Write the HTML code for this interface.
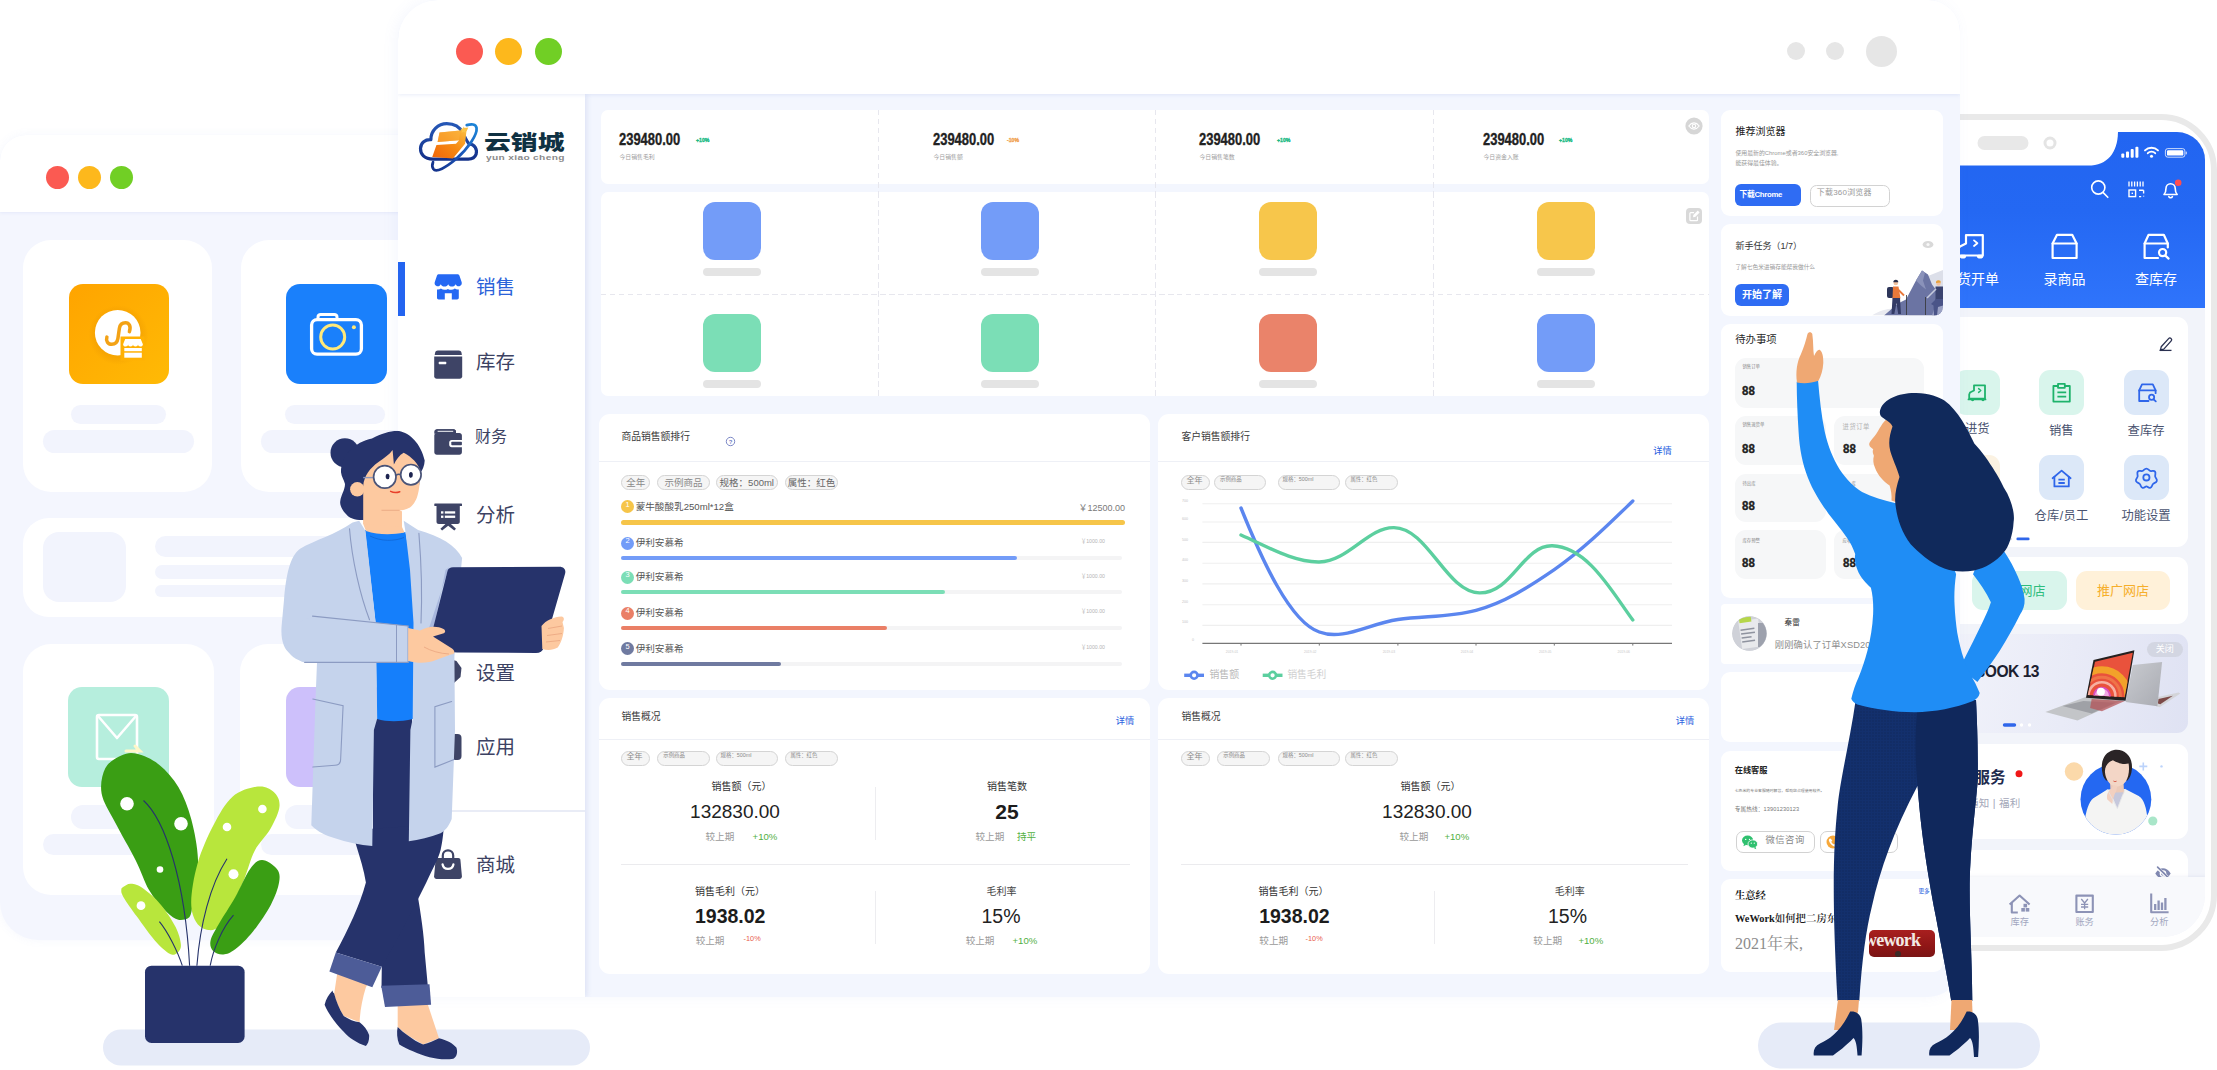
<!DOCTYPE html>
<html lang="zh-CN">
<head>
<meta charset="utf-8">
<title>云销城</title>
<style>
html,body{margin:0;padding:0;background:#fff;}
body{width:2217px;height:1070px;overflow:hidden;position:relative;font-family:"Liberation Sans","Noto Sans CJK SC",sans-serif;color:#333;}
#stage{position:absolute;left:0;top:0;width:2217px;height:1070px;overflow:hidden;background:#fff;}
.abs{position:absolute;}
.t{position:absolute;white-space:nowrap;line-height:1;}
/* left back window */
#lw{position:absolute;left:0;top:135px;width:500px;height:805px;background:#f4f6fe;border-radius:26px 0 0 38px;overflow:hidden;box-shadow:0 0 10px rgba(120,140,220,.07);}
#lw .hd{position:absolute;left:0;top:0;width:100%;height:77px;background:#fff;box-shadow:0 1px 3px rgba(120,140,220,.12);}
.dot{position:absolute;border-radius:50%;}
.wc{position:absolute;background:#fff;border-radius:28px;}
.ph{position:absolute;background:#f2f4fd;border-radius:20px;}
/* main window */
#mw{position:absolute;left:398px;top:0;width:1562px;height:997px;background:#f3f6fe;border-radius:40px 32px 32px 0;overflow:hidden;box-shadow:-3px 0 14px rgba(120,140,220,.07);}
#mw .hd{position:absolute;left:0;top:0;width:100%;height:94px;background:#fff;box-shadow:0 1px 3px rgba(120,140,220,.14);z-index:3;}
#side{position:absolute;left:0;top:94px;width:187px;height:903px;background:#fff;box-shadow:3px 0 6px rgba(150,165,220,.18);z-index:2;}
.card{position:absolute;background:#fff;border-radius:9px;}
.mi{position:absolute;left:78px;font-size:19.5px;color:#3c4263;white-space:nowrap;line-height:1;}
.chip{position:absolute;height:13.600px;border:1.600px solid #d4d4d4;background:#f5f5f5;border-radius:9px;box-sizing:content-box;color:#8a8a8a;font-size:9.5px;line-height:14px;white-space:nowrap;overflow:hidden;}
.num{font-weight:bold;transform-origin:0 50%;display:inline-block;transform:scaleX(.835);letter-spacing:0;-webkit-text-stroke:.35px currentColor;}
.vd{position:absolute;width:1.400px;background:repeating-linear-gradient(180deg,#e7e7ee 0,#e7e7ee 5.500px,transparent 5.500px,transparent 9px);}
.hdv{position:absolute;height:1.400px;background:repeating-linear-gradient(90deg,#e7e7ee 0,#e7e7ee 5.500px,transparent 5.500px,transparent 9px);}
.sq{position:absolute;width:58px;height:58px;border-radius:12px;}
.pl{position:absolute;width:58px;height:7.5px;border-radius:4px;background:#e4e4e4;}
</style>
</head>
<body>
<div id="stage">
<!-- ============ LEFT BACK WINDOW ============ -->
<div id="lw">
  <div class="hd"></div>
  <div class="dot" style="left:46px;top:31px;width:23px;height:23px;background:#fb5a52;"></div>
  <div class="dot" style="left:78px;top:31px;width:23px;height:23px;background:#fdb81c;"></div>
  <div class="dot" style="left:110px;top:31px;width:23px;height:23px;background:#71cf25;"></div>
  <!-- row 1 cards -->
  <div class="wc" style="left:23px;top:105px;width:189px;height:252px;"></div>
  <div class="wc" style="left:241px;top:105px;width:189px;height:252px;"></div>
  <div class="abs" style="left:69px;top:148.700px;width:100px;height:100px;border-radius:14px;background:linear-gradient(135deg,#ffa400,#ffba05);">
    <svg width="100" height="100" viewBox="0 0 100 100" style="position:absolute;left:0;top:0">
      <defs><radialGradient id="osh" cx=".5" cy=".5" r=".5"><stop offset=".75" stop-color="#e08a00" stop-opacity=".28"/><stop offset="1" stop-color="#e08a00" stop-opacity="0"/></radialGradient></defs>
      <circle cx="49.500" cy="51" r="30" fill="url(#osh)"/>
      <circle cx="48.700" cy="48.700" r="22.800" fill="#fff"/>
      <path d="M60.400 47.600C62.300 42.200 60 38.700 56.500 38.700C53 38.700 50.900 40.700 50.400 44.200L48.900 54.600C48.400 58.100 46 60.300 42.700 60.300C39 60.300 36.600 57 37.900 53.100" fill="none" stroke="#f3a215" stroke-width="3.500" stroke-linecap="round"/>
      <rect x="51.500" y="52.500" width="24" height="24" fill="#ffb104"/>
      <path d="M56.500 55h15.500l2.200 5.200c0 1.500-1.200 2.300-2.500 2.300s-2.400-.8-2.400-2c0 1.200-1.100 2-2.500 2s-2.500-.8-2.500-2c0 1.200-1.100 2-2.500 2s-2.400-.8-2.400-2c0 1.200-1.100 2-2.500 2s-2.500-.8-2.500-2.300z" fill="#fff" transform="translate(-.3,0)"/>
      <rect x="55.300" y="64" width="17.500" height="3.200" fill="#fff"/><rect x="55.300" y="68.700" width="17.500" height="5" fill="#fff"/>
    </svg>
  </div>
  <div class="abs" style="left:286px;top:148.700px;width:100.500px;height:100px;border-radius:14px;background:#1a80fb;">
    <svg width="101" height="100" viewBox="0 0 101 100" style="position:absolute;left:0;top:0">
      <path d="M32 35.200v-2.200a2.600 2.600 0 0 1 2.600-2.600h13.800a2.600 2.600 0 0 1 2.600 2.600v2.200" fill="none" stroke="#fff" stroke-width="3"/>
      <rect x="25.600" y="35.600" width="49.800" height="34.600" rx="5.500" fill="none" stroke="#fff" stroke-width="3.300"/>
      <circle cx="46.700" cy="53" r="12" fill="none" stroke="#ffe97a" stroke-width="3"/>
      <circle cx="67.900" cy="43.300" r="2" fill="#ffe97a"/>
    </svg>
  </div>
  <div class="ph" style="left:71px;top:270px;width:95px;height:19px;"></div>
  <div class="ph" style="left:43px;top:295px;width:151px;height:23px;"></div>
  <div class="ph" style="left:285px;top:270px;width:100px;height:19px;"></div>
  <div class="ph" style="left:261px;top:295px;width:151px;height:23px;"></div>
  <!-- row 2 wide card -->
  <div class="wc" style="left:23px;top:383px;width:440px;height:99px;border-radius:26px;"></div>
  <div class="ph" style="left:43px;top:397px;width:83px;height:70px;border-radius:16px;"></div>
  <div class="ph" style="left:155px;top:401px;width:260px;height:21px;"></div>
  <div class="ph" style="left:155px;top:430px;width:260px;height:14px;"></div>
  <div class="ph" style="left:155px;top:450px;width:260px;height:12px;"></div>
  <!-- row 3 cards -->
  <div class="wc" style="left:23px;top:509px;width:191px;height:251px;"></div>
  <div class="wc" style="left:240px;top:509px;width:191px;height:251px;"></div>
  <div class="abs" style="left:68px;top:552px;width:101px;height:100px;border-radius:14px;background:#b6eedd;">
    <svg width="101" height="100" viewBox="0 0 101 100" style="position:absolute;left:0;top:0">
      <path d="M31 28h36a2 2 0 0 1 2 2v40a2 2 0 0 1-2 2H31a2 2 0 0 1-2-2V30a2 2 0 0 1 2-2z" fill="none" stroke="#fff" stroke-width="2.6"/>
      <path d="M30 29l19 22 19-22" fill="none" stroke="#fff" stroke-width="2.6" stroke-linejoin="round"/>
      <path d="M58 64h14l-5-5" fill="none" stroke="#fff7c8" stroke-width="3" stroke-linecap="round"/>
    </svg>
  </div>
  <div class="abs" style="left:286px;top:552px;width:101px;height:100px;border-radius:14px;background:#cdc0fb;"></div>
  <div class="ph" style="left:71px;top:670px;width:95px;height:24px;"></div>
  <div class="ph" style="left:43px;top:699px;width:151px;height:21px;"></div>
  <div class="ph" style="left:285px;top:670px;width:100px;height:24px;"></div>
  <div class="ph" style="left:261px;top:699px;width:151px;height:21px;"></div>
</div>
<!-- ============ PHONE ============ -->
<div id="phone" class="abs" style="left:1880px;top:114px;width:336.500px;height:837px;box-sizing:border-box;border:6.5px solid #e9e9e9;border-radius:56px;background:#fff;"></div>
<div id="scr" class="abs" style="left:1900px;top:132px;width:305px;height:804.500px;border-radius:28px 28px 42px 28px;overflow:hidden;background:#f2f4fa;">
 <div class="abs" style="left:-1900px;top:-132px;width:2217px;height:1070px;font-family:'Liberation Sans','Noto Sans CJK SC',sans-serif;">
  <div class="abs" style="left:1900px;top:132px;width:306px;height:175.5px;background:linear-gradient(180deg,#2265f1 0%,#2468f3 45%,#2f74fb 100%);"></div>
  <svg class="abs" style="left:0;top:0" width="2217" height="1070" viewBox="0 0 2217 1070">
    <!-- notch -->
    <path d="M1900 131H2118C2118 152 2108 165.6 2088 165.6H1900Z" fill="#fff"/>
    <rect x="1977.5" y="136" width="51" height="14" rx="7" fill="#e8e8e8"/>
    <circle cx="2050" cy="143" r="5" fill="#fff" stroke="#e4e4e4" stroke-width="3"/>
    <!-- status -->
    <g fill="#fff">
      <rect x="2121.3" y="153.6" width="3" height="4.2" rx="1"/><rect x="2126" y="151.4" width="3" height="6.4" rx="1"/><rect x="2130.7" y="149" width="3" height="8.8" rx="1"/><rect x="2135.4" y="146.8" width="3" height="11" rx="1"/>
      <circle cx="2151.5" cy="156.3" r="1.5"/>
    </g>
    <path d="M2147.8 153.2a5.2 5.2 0 0 1 7.4 0M2145 150.4a9.2 9.2 0 0 1 13 0" fill="none" stroke="#fff" stroke-width="1.9" stroke-linecap="round"/>
    <rect x="2165.4" y="148.6" width="19.5" height="8.6" rx="2.4" fill="none" stroke="#fff" stroke-width="1" opacity=".75"/>
    <rect x="2167" y="150.2" width="16.3" height="5.4" rx="1.2" fill="#fff"/>
    <rect x="2185.7" y="151.4" width="1.2" height="3" rx=".6" fill="#fff" opacity=".7"/>
    <!-- header icons -->
    <g fill="none" stroke="#fff" stroke-width="1.6" stroke-linecap="round">
      <circle cx="2098.3" cy="187.5" r="6.6"/><path d="M2103.2 192.6L2107.8 197.3"/>
      <path d="M2129 181.5v5M2131.8 181.5v5M2134.6 181.5v5M2137.4 181.5v5M2140.2 181.5v5M2143 181.5v5" stroke-width="1.3" stroke-linecap="butt"/>
      <rect x="2129" y="190" width="6.6" height="6.6" stroke-width="1.4"/><rect x="2131.6" y="192.6" width="1.4" height="1.4" fill="#fff" stroke="none"/>
      <path d="M2139 190.2h4.6M2143.6 190.2v3.2M2139 196.6h2.2M2143.6 196.6v-0.8" stroke-width="1.4" stroke-linecap="butt"/>
      <path d="M2164 194.5h13.2c-1.6-1.6-2-3-2-6.2a4.6 4.6 0 0 0-9.2 0c0 3.2-.4 4.6-2 6.200z" stroke-linejoin="round"/><path d="M2168.8 196.6a2 2 0 0 0 3.600 0" />
    </g>
    <circle cx="2178.2" cy="182.8" r="3.3" fill="#ff4d4f"/>
    <!-- quick actions -->
    <g fill="none" stroke="#fff" stroke-width="2.2" stroke-linejoin="round" stroke-linecap="round">
      <path d="M1960 246.5l6-3v-8.300h16.800v20.300h-24.500v-6.500z"/><path d="M1974 240.400l3.400 2.800-3.400 2.800" stroke-width="1.800"/>
      <rect x="1959.700" y="254.800" width="6.400" height="3.600" rx="1.800" fill="#fff" stroke="none"/><rect x="1976.900" y="254.800" width="6.400" height="3.600" rx="1.800" fill="#fff" stroke="none"/>
      <path d="M2052.600 243.500L2057 234.800h15.200l4.400 8.700v14.500h-24z"/><path d="M2052.600 243.500h24"/>
      <path d="M2158 258h-13.400v-14.500l4-8.700h15.200l4 8.700v4"/><path d="M2144.600 243.500h23.200"/>
      <circle cx="2162.600" cy="252.600" r="3.600"/><path d="M2165.400 255.600l3.200 3"/>
    </g>
  </svg>
  <div class="t" style="left:1943px;top:271.500px;font-size:14px;color:#fff;">进货开单</div>
  <div class="t" style="left:2043.400px;top:271.500px;font-size:14px;color:#fff;">录商品</div>
  <div class="t" style="left:2135px;top:271.500px;font-size:14px;color:#fff;">查库存</div>

  <!-- card 1 : grid -->
  <div class="abs" style="left:1920px;top:317.300px;width:268.300px;height:230px;border-radius:11px;background:#fff;"></div>
  <svg class="abs" style="left:2158px;top:336px" width="18" height="16" viewBox="0 0 18 16"><path d="M3.200 10.800L10.600 2.600a1.700 1.700 0 0 1 2.600 2.300L5.800 13.100l-3.300.9z" fill="none" stroke="#2a3050" stroke-width="1.300" stroke-linejoin="round"/><path d="M1.500 14.400h12" stroke="#2a3050" stroke-width="1.300"/></svg>
  <div class="abs" style="left:1955px;top:369.700px;width:45.200px;height:45px;border-radius:11px;background:#d9f5ec;"></div>
  <div class="abs" style="left:2039px;top:369.700px;width:45.200px;height:45px;border-radius:11px;background:#d9f5ec;"></div>
  <div class="abs" style="left:2123.700px;top:369.700px;width:45.500px;height:45px;border-radius:11px;background:#dce8f8;"></div>
  <div class="abs" style="left:1955px;top:455px;width:45.200px;height:45px;border-radius:11px;background:#fbf2e2;"></div>
  <div class="abs" style="left:2039px;top:455px;width:45.200px;height:45px;border-radius:11px;background:#dce8f8;"></div>
  <div class="abs" style="left:2123.700px;top:455px;width:45.500px;height:45px;border-radius:11px;background:#dce8f8;"></div>
  <svg class="abs" style="left:0;top:0" width="2217" height="1070" viewBox="0 0 2217 1070">
    <g fill="none" stroke="#1eb36b" stroke-width="1.800" stroke-linejoin="round" stroke-linecap="round">
      <path d="M1970 392.500l4-2v-5.200h11v13.400h-15.800v-4.200z"/><path d="M1978.600 388.600l2.200 1.900-2.200 1.900" stroke-width="1.400"/>
      <circle cx="1972.600" cy="399.600" r="1.600" fill="#1eb36b" stroke="none"/><circle cx="1983" cy="399.600" r="1.600" fill="#1eb36b" stroke="none"/><path d="M1968.500 399.400h17" />
      <path d="M2058 386h-4.600v15.600h16.400v-15.600h-4.600"/><rect x="2058" y="383.800" width="6.800" height="4" /><path d="M2057.400 392.400h8.800M2057.400 396.600h8.800" stroke-linecap="butt"/>
    </g>
    <g fill="none" stroke="#2f66ea" stroke-width="1.800" stroke-linejoin="round" stroke-linecap="round">
      <path d="M2148.500 401h-9.300v-10.600l2.800-6h10.800l2.800 6v2.800"/><path d="M2139.200 390.400h16.400"/>
      <circle cx="2151.600" cy="397.200" r="2.600"/><path d="M2153.600 399.300l2.200 2.100"/>
      <path d="M2052.600 478.200l9-7.600 9 7.600"/><path d="M2054.400 477v9.400h14.400V477"/><path d="M2058.400 479.600h6.400M2058.400 483h6.400" stroke-linecap="butt"/>
      <circle cx="2146.400" cy="477.400" r="3.100"/>
      <path d="M2146.400 468.600c2 0 2.600 2 4.200 2.400 1.800.400 3.200-1 4.400.6 1.200 1.700-.2 3.200.2 5 .4 1.600 2.200 2.400 1.600 4.400-.6 1.900-2.600 1.700-3.800 3-1.200 1.300-.8 3.300-2.800 3.800-1.900.4-2.600-1.500-3.800-1.500s-1.900 1.900-3.800 1.500c-2-.5-1.600-2.500-2.800-3.800-1.200-1.300-3.200-1.100-3.800-3-.6-2 1.200-2.800 1.600-4.400.400-1.800-1-3.300.2-5 1.200-1.600 2.600-.2 4.400-.6 1.600-.4 2.200-2.400 4.200-2.400z"/>
    </g>
    <rect x="2016.400" y="537.600" width="13.200" height="2.700" rx="1.350" fill="#2f66ea"/>
    <rect x="2004" y="537.600" width="8" height="2.700" rx="1.350" fill="#d8dcea"/>
  </svg>
  <div class="t" style="left:1965px;top:423px;font-size:12.300px;color:#4a5370;">进货</div>
  <div class="t" style="left:2049px;top:424.500px;font-size:12.300px;color:#4a5370;">销售</div>
  <div class="t" style="left:2127.600px;top:424.500px;font-size:12.300px;color:#4a5370;">查库存</div>
  <div class="t" style="left:2034.500px;top:509.600px;font-size:12.300px;color:#4a5370;letter-spacing:.3px;">仓库/员工</div>
  <div class="t" style="left:2121.400px;top:509.600px;font-size:12.300px;color:#4a5370;">功能设置</div>

  <!-- card 2 : shop buttons -->
  <div class="abs" style="left:1920px;top:557px;width:268.300px;height:66.500px;border-radius:11px;background:#fff;"></div>
  <div class="abs" style="left:1972.400px;top:570.600px;width:94.200px;height:39px;border-radius:11px;background:#d9f5ec;color:#2dbd7d;font-size:13px;line-height:39px;text-align:center;">我的网店</div>
  <div class="abs" style="left:2075.600px;top:570.600px;width:94.800px;height:39px;border-radius:11px;background:#fff1d9;color:#f6ae2a;font-size:13px;line-height:39px;text-align:center;">推广网店</div>

  <!-- banner -->
  <div class="abs" style="left:1920px;top:633.600px;width:267.700px;height:99.200px;border-radius:11px;background:linear-gradient(100deg,#f3f4fb 0%,#e9ebf7 55%,#dfe2f3 100%);"></div>
  <div class="t" style="left:1909px;top:663.600px;width:130px;text-align:right;font-size:15.600px;font-weight:bold;color:#1b2030;letter-spacing:-.5px;">MATEBOOK 13</div>
  <div class="abs" style="left:2146.700px;top:642px;width:36px;height:15px;border-radius:8px;background:#d3d6e2;color:#fff;font-size:9px;line-height:15px;text-align:center;">关闭</div>
  <svg class="abs" style="left:0;top:0" width="2217" height="1070" viewBox="0 0 2217 1070">
    <defs>
      <linearGradient id="lapscr" x1="0" y1="0" x2="1" y2="1"><stop offset="0" stop-color="#f2643c"/><stop offset=".55" stop-color="#f58a5a"/><stop offset="1" stop-color="#e8453c"/></linearGradient>
      <linearGradient id="lapsil" x1="0" y1="0" x2="1" y2="1"><stop offset="0" stop-color="#c9cbd0"/><stop offset="1" stop-color="#a9abb2"/></linearGradient>
    </defs>
    <!-- back laptop -->
    <path d="M 2156.9 697.3 L 2178.5 692.5 L 2180.3 693.5 L 2159.7 707.3 L 2156.2 706.3 Z" fill="#d3d4d8"/>
    <path d="M 2158.5 699.1 L 2172.9 695.8 L 2160.3 704.2 L 2157.9 703.6 Z" fill="#7d4a48"/>
    <path d="M 2132.8 664.9 L 2162.1 661.9 L 2157.4 706.3 L 2125.6 701.9 Z" fill="url(#lapsil)"/>
    <!-- front laptop -->
    <path d="M 2086.3 696.8 L 2125.1 699.1 L 2077.5 720.6 L 2045.4 711.9 Z" fill="#c3c5c8"/>
    <path d="M 2083.4 700.9 L 2115.3 702.8 L 2091.7 713.5 L 2062.4 706.1 Z" fill="#9fa1a6"/>
    <path d="M 2091.7 699.1 L 2124.8 700.9 L 2101.9 711.2 L 2090.1 708.1 Z" fill="#b5565a" opacity=".75"/>
    <path d="M 2093.5 660 L 2134.4 650.3 L 2125.6 700.7 L 2086 697.8 Z" fill="#24201f"/>
    <path d="M 2095 661.7 L 2132.8 652.8 L 2124.6 697.3 L 2087.8 695 Z" fill="#e9523c"/>
    <clipPath id="scrc"><path d="M 2095 661.7 L 2132.8 652.8 L 2124.6 697.3 L 2087.8 695 Z"/></clipPath>
    <g clip-path="url(#scrc)" fill="none">
      <circle cx="2101.9" cy="695.8" r="26" stroke="#f2a22a" stroke-width="7"/>
      <circle cx="2101.9" cy="695.8" r="18.500" stroke="#ef7448" stroke-width="3"/>
      <circle cx="2101.9" cy="695.8" r="13.500" stroke="#f6b0a0" stroke-width="2.500"/>
      <circle cx="2101.9" cy="695.8" r="8" fill="#f3a6e4" stroke="#d94fc0" stroke-width="2"/>
      <circle cx="2100.9" cy="691.7" r="4" fill="#fff" stroke="none"/>
    </g>
    <rect x="2002.800" y="723.300" width="13.400" height="3.400" rx="1.700" fill="#2f66ea"/>
    <circle cx="2021.500" cy="725" r="1.700" fill="#fff"/><circle cx="2029.500" cy="725" r="1.700" fill="#fff"/>
  </svg>

  <!-- service card -->
  <div class="abs" style="left:1920px;top:743.900px;width:268px;height:94.800px;border-radius:11px;background:#fff;"></div>
  <div class="t" style="left:1915px;top:770px;width:90.500px;text-align:right;font-size:15.500px;font-weight:bold;color:#1f2a4d;">专属服务</div>
  <div class="t" style="left:1920px;top:797.500px;width:100.600px;text-align:right;font-size:10.500px;color:#a3a7b8;letter-spacing:.3px;">活动通知 | 福利</div>
  <svg class="abs" style="left:0;top:0" width="2217" height="1070" viewBox="0 0 2217 1070">
    <circle cx="2019" cy="773.800" r="3.500" fill="#f01818"/>
    <circle cx="2074" cy="771.500" r="9.200" fill="#fbd9aa"/>
    <circle cx="2152.800" cy="821" r="4.600" fill="#a9e6c9"/>
    <path d="M2143.300 762.400v8M2139.300 766.400h8" stroke="#bcd3fb" stroke-width="1.600"/><circle cx="2161.500" cy="766.400" r="1.200" fill="#bcd3fb"/>
    <circle cx="2115.900" cy="799.200" r="35.400" fill="#2468f2"/>
    <clipPath id="avc"><path d="M2080.500 740h70.800v59.200a35.400 35.400 0 0 1-70.800 0z"/></clipPath>
    <g clip-path="url(#avc)">
      <path d="M 2084.8 819.7 C 2087.1 806.2 2090.4 799.5 2094.9 797.3 L 2107.3 789.4 L 2125.2 788.9 L 2138.7 796.1 C 2144.3 799.5 2146.5 808.5 2147.6 819.7 L 2147.6 837.6 L 2084.8 837.6 Z" fill="#f4f4f3"/>
      <path d="M 2110.1 782.7 L 2123.5 782.7 L 2124.1 792.8 L 2117.4 801.7 L 2110.6 793.9 Z" fill="#eccab8"/>
      <path d="M 2110.6 792.8 L 2123.5 792.2 L 2117.4 808.5 Z" fill="#c6c8dc"/>
      <path d="M 2102.8 774.8 C 2100 763.6 2102.8 752.4 2114 750 C 2125.2 748.5 2133 756.9 2131.9 769.2 C 2131.4 774.8 2129.7 778.2 2127.4 780.4 L 2106.1 780.4 C 2104.5 778.8 2103.3 777.1 2102.8 774.8 Z" fill="#2a2426"/>
      <path d="M 2105 772.6 C 2104.5 767 2107.3 762.5 2112.9 760.3 C 2118.5 763.6 2124.1 764.8 2128.6 763.6 C 2129.7 770.4 2128.6 777.1 2125.8 781.6 C 2123 785.5 2118.5 787.2 2115.1 786.6 C 2109.5 785.5 2105.6 779.3 2105 772.6 Z" fill="#f3d6c6"/>
      <path d="M 2107.3 799.5 C 2106.1 795 2108.4 790.5 2111.7 788.3 L 2113.4 784.9 L 2117.4 786.1 L 2116.2 791.1 C 2114 795 2112.9 799.5 2112.3 804 Z" fill="#f2d0c0"/>
      <path d="M2107.3 789.4L2117.4 808.5L2125.2 788.9" fill="none" stroke="#e3e3e6" stroke-width=".8"/>
      <path d="M2113.4 781q1.500 1.200 3.200 .2" fill="none" stroke="#d9634f" stroke-width="1"/>
    </g>
  </svg>

  <!-- next card + tab bar -->
  <div class="abs" style="left:1920px;top:849.500px;width:268px;height:60px;border-radius:11px;background:#fff;"></div>
  <svg class="abs" style="left:2153.500px;top:865px" width="18" height="17" viewBox="0 0 18 17"><path d="M1.300 8.600C3.600 4.800 6.200 3.300 9 3.300s5.400 1.500 7.700 5.300C14.400 12.400 11.800 13.900 9 13.900S3.600 12.400 1.300 8.600z" fill="#8088b0"/><circle cx="9" cy="8.600" r="2.700" fill="none" stroke="#fff" stroke-width="1.300"/><path d="M3.200 2.600l12.400 11.600" stroke="#fff" stroke-width="3.200"/><path d="M3.600 2.200l12 11.600" stroke="#8088b0" stroke-width="1.700" stroke-linecap="round"/></svg>
  <div class="abs" style="left:1900px;top:877.400px;width:306px;height:70px;background:#f8f9fc;box-shadow:0 -1px 3px rgba(120,130,180,.10);"></div>
  <svg class="abs" style="left:0;top:0" width="2217" height="1070" viewBox="0 0 2217 1070">
    <g fill="none" stroke="#8d93b6" stroke-width="2.100" stroke-linejoin="round">
      <path d="M2009.600 904.500l10-9 10 9"/><path d="M2011.800 903v9.500h6"/><rect x="2021.300" y="908" width="3.600" height="3.600" fill="#8d93b6" stroke="none"/><rect x="2025.700" y="908" width="3.600" height="3.600" fill="#8d93b6" stroke="none"/><rect x="2023.500" y="903.800" width="3.600" height="3.600" fill="#8d93b6" stroke="none"/>
      <rect x="2076.400" y="895.600" width="16.400" height="16.400"/><path d="M2081.300 899l3.300 4 3.300-4M2084.600 903v6.200M2081 904.400h7.200M2081 907h7.200" stroke-width="1.300"/>
      <path d="M2151.200 893.500v18.800h17.400"/><path d="M2155.200 910v-6M2158.600 910v-9.500M2162 910v-7.500M2165.400 910v-12" stroke-width="2.300" stroke-linecap="butt"/>
    </g>
  </svg>
  <div class="t" style="left:2010.600px;top:918.400px;font-size:9.200px;color:#a2a7c0;">库存</div>
  <div class="t" style="left:2075.400px;top:918.400px;font-size:9.200px;color:#a2a7c0;">账务</div>
  <div class="t" style="left:2150px;top:918.400px;font-size:9.200px;color:#a2a7c0;">分析</div>
 </div>
</div>
<!-- ============ MAIN WINDOW ============ -->
<div id="mw">
 <div class="abs" style="left:-398px;top:0;width:2217px;height:1070px;">
  <div class="abs" style="left:398px;top:0;width:1562px;height:94px;background:#fff;box-shadow:0 1px 4px rgba(120,140,220,.16);z-index:3;"></div>
  <div class="abs" style="left:398px;top:94px;width:187px;height:903px;background:#fff;box-shadow:2px 0 5px rgba(150,165,220,.22);z-index:2;"></div>
  <div class="abs" style="left:0;top:0;width:2217px;height:1070px;z-index:4;">
  <div class="dot" style="left:455.500px;top:37.500px;width:27px;height:27px;background:#fb5a52;"></div>
  <div class="dot" style="left:495px;top:37.500px;width:27px;height:27px;background:#fdb81c;"></div>
  <div class="dot" style="left:534.500px;top:37.500px;width:27px;height:27px;background:#71cf25;"></div>
  <div class="dot" style="left:1786.500px;top:42px;width:18px;height:18px;background:#e6e6e6;"></div>
  <div class="dot" style="left:1826px;top:42px;width:18px;height:18px;background:#e6e6e6;"></div>
  <div class="dot" style="left:1865.500px;top:35.500px;width:31px;height:31px;background:#e6e6e6;"></div>

  <!-- logo -->
  <svg class="abs" style="left:410px;top:110px" width="170" height="75" viewBox="0 0 2217 978">
    <defs>
      <linearGradient id="lgO" x1="0" y1="1" x2="1" y2="0"><stop offset="0" stop-color="#f0640a"/><stop offset=".5" stop-color="#f68a12"/><stop offset="1" stop-color="#fbc548"/></linearGradient>
      <linearGradient id="lgB" x1="0" y1="0" x2="0" y2="1"><stop offset="0" stop-color="#2557b6"/><stop offset="1" stop-color="#14318a"/></linearGradient>
      <linearGradient id="lgC" x1="1" y1="0" x2="0" y2="1"><stop offset="0" stop-color="#1c86d8"/><stop offset=".5" stop-color="#1b55b8"/><stop offset="1" stop-color="#14318a"/></linearGradient>
    </defs>
    <path d="M300 640C185 640 135 575 137 500C140 425 200 383 272 388C272 262 368 178 480 178C575 178 650 222 690 300C720 360 740 410 770 442C845 448 880 515 862 578C845 628 795 643 745 640Z" fill="none" stroke="url(#lgB)" stroke-width="42" stroke-linejoin="round"/>
    <path d="M385 292L655 268L700 235L760 228L735 285L718 440L560 632L290 612L345 455L600 440L640 395L360 418Z" fill="url(#lgO)"/>
    <path d="M385 292L655 268L640 395L360 418Z" fill="#fbb040" opacity=".55"/>
    <path d="M700 215L716 244L750 250L722 268L726 300L700 282L672 298L680 266L655 246L688 244Z" fill="#fbc548"/>
    <path d="M740 198C800 180 860 180 868 235C880 320 760 500 600 640C470 750 340 820 305 770C285 740 290 705 300 680" fill="none" stroke="url(#lgC)" stroke-width="36" stroke-linecap="round"/>
  </svg>
  <div class="t" id="lgt" style="left:484.300px;top:133.200px;font-weight:900;font-size:20.500px;color:#0f3142;transform-origin:0 0;transform:scaleX(1.310);">云销城</div>
  <div class="t" id="lgs" style="left:485.900px;top:154px;font-size:7.600px;font-weight:bold;color:#8b8b8b;transform-origin:0 0;transform:scaleX(1.340);letter-spacing:.25px;">yun xiao cheng</div>

  <!-- side menu -->
  <div class="abs" style="left:398px;top:262px;width:7px;height:54px;background:#2364f0;"></div>
  <svg class="abs" style="left:0;top:0;" width="700" height="1000" viewBox="0 0 700 1000">
    <!-- sales -->
    <g fill="#2568f3">
      <path d="M438.500 274.200h18.800c.9 0 1.700.5 2.100 1.300l2.300 6.800c.4 1.700-.4 3.500-2.200 3.900-1.800.4-3.300-.5-3.900-2-.6 1.500-2 2.400-3.700 2.400s-3.100-.9-3.700-2.400c-.6 1.500-2 2.400-3.700 2.400s-3.100-.9-3.700-2.400c-.6 1.500-2.100 2.400-3.900 2-1.800-.4-2.600-2.200-2.200-3.900l2.300-6.800c.4-.8.900-1.300 1.500-1.300z"/>
      <path d="M437 289.500c1.500.3 2.900-.1 3.900-.9 1.100.8 2.400 1.200 3.700 1.200s2.300-.3 3.300-.9c1 .6 2.100.9 3.300.9s2.600-.4 3.700-1.200c1 .8 2.400 1.200 3.900.9v8.300c0 1-.8 1.700-1.700 1.700h-5.300v-6.300h-7v6.300h-6.100c-1 0-1.700-.8-1.700-1.700z"/>
    </g>
    <g fill="#3e4466">
      <!-- stock -->
      <path d="M437.800 350.600h21c1.300 0 2.400.9 2.700 2.200l.4 2.200h-27.200l.4-2.200c.3-1.300 1.400-2.200 2.700-2.200z"/>
      <path d="M434.200 356.600h28v19.600c0 1.400-1.100 2.500-2.500 2.500h-23c-1.400 0-2.500-1.100-2.500-2.500z"/>
      <rect x="438.700" y="361.800" width="7.600" height="2.400" rx=".6" fill="#fff"/>
      <!-- finance -->
      <path d="M437 429.200h16.500c1.400 0 2.500 1.100 2.500 2.500v.7h-18.300c-1 0-1.800.5-1.800 1.400v-2.800c0-1 .5-1.800 1.100-1.800z" />
      <path d="M436.800 433h22.600c1.400 0 2.500 1.100 2.500 2.500v4.500h-10.200c-1.400 0-2.500 1.100-2.500 2.500v2.200c0 1.400 1.100 2.500 2.500 2.500h10.200v5c0 1.400-1.100 2.500-2.500 2.500h-22.600c-1.400 0-2.500-1.100-2.500-2.500v-16.700c0-1.400 1.100-2.500 2.500-2.500z"/>
      <rect x="451.300" y="441.700" width="10.600" height="3.600" rx=".8"/>
      <path d="M434.300 431.700c0-1.400 1.100-2.500 2.500-2.500h16.700c1.400 0 2.500 1.100 2.500 2.500v2h-21.700z"/>
      <rect x="437.600" y="430.800" width="15.600" height="1.100" fill="#fff" opacity=".85"/>
      <!-- analysis -->
      <rect x="434.300" y="503.500" width="27.700" height="2.600" rx=".6"/>
      <path d="M436.500 506h23.300v15.800c0 1.300-1 2.300-2.300 2.300h-18.700c-1.300 0-2.300-1-2.300-2.300z"/>
      <path d="M446 523.500h4.400l5.600 5.300-1.700 1.600-6.100-4.600-6.100 4.600-1.700-1.600z"/>
      <rect x="441" y="511.300" width="2.400" height="2.300" fill="#fff"/><rect x="444.800" y="511.300" width="10.400" height="2.300" fill="#fff"/>
      <rect x="441" y="515.600" width="2.400" height="2.300" fill="#fff"/><rect x="444.800" y="515.600" width="10.400" height="2.300" fill="#fff"/>
      <!-- settings (mostly hidden) -->
      <path d="M448 658.500l8.500 2.500 5 7-1 9-6.500 6-9 1-7-5.500-2-8.500 4-8z"/>
      <!-- apps (mostly hidden) -->
      <rect x="434.500" y="734" width="27" height="26" rx="4"/>
      <!-- mall -->
      <path d="M437.600 858h20.800c1 0 1.900.8 2 1.800l1.500 16.400c.1 1.500-1 2.700-2.500 2.700h-22.800c-1.500 0-2.600-1.200-2.500-2.700l1.500-16.400c.1-1 1-1.800 2-1.800z"/>
    </g>
    <path d="M442.800 858.500v-3a5.200 5.200 0 0 1 10.400 0v3" fill="none" stroke="#3e4466" stroke-width="2.200"/>
    <path d="M442.600 864.500a5.500 5.500 0 0 0 10.800 0" fill="none" stroke="#fff" stroke-width="2.300" stroke-linecap="round"/>
  </svg>
  <div class="mi" style="left:476px;top:277.7px;color:#2b63d9;">销售</div>
  <div class="mi" style="left:476px;top:353.2px;">库存</div>
  <div class="mi" style="left:475px;top:429.2px;font-size:16px;">财务</div>
  <div class="mi" style="left:476px;top:505.7px;">分析</div>
  <div class="mi" style="left:476px;top:583.2px;">客户</div>
  <div class="mi" style="left:476px;top:663.7px;">设置</div>
  <div class="mi" style="left:476px;top:738.2px;">应用</div>
  <div class="abs" style="left:398px;top:810px;width:187px;height:1.500px;background:#e9ecf6;"></div>
  <div class="mi" style="left:476px;top:855.7px;">商城</div>
  <!-- stats card -->
  <div class="card" style="left:601px;top:110px;width:1108px;height:73.500px;border-radius:7px;"></div>
  <div class="vd" style="left:877.500px;top:110px;height:286px;"></div>
  <div class="vd" style="left:1155px;top:110px;height:286px;"></div>
  <div class="vd" style="left:1432.500px;top:110px;height:286px;"></div>
  <div class="t" style="left:619px;top:130.600px;font-size:16.300px;color:#222;"><span class="num" style="transform:scaleX(.795)">239480.00</span></div>
  <div class="t" style="left:933px;top:130.600px;font-size:16.300px;color:#222;"><span class="num" style="transform:scaleX(.795)">239480.00</span></div>
  <div class="t" style="left:1199px;top:130.600px;font-size:16.300px;color:#222;"><span class="num" style="transform:scaleX(.795)">239480.00</span></div>
  <div class="t" style="left:1483px;top:130.600px;font-size:16.300px;color:#222;"><span class="num" style="transform:scaleX(.795)">239480.00</span></div>
  <div class="t" style="left:695.500px;top:136.800px;font-size:6px;font-weight:bold;color:#14b881;"><span class="num" style="transform:scaleX(.86)">+10%</span></div>
  <div class="t" style="left:1007px;top:136.800px;font-size:6px;font-weight:bold;color:#f0a04c;"><span class="num" style="transform:scaleX(.86)">-10%</span></div>
  <div class="t" style="left:1277px;top:136.800px;font-size:6px;font-weight:bold;color:#14b881;"><span class="num" style="transform:scaleX(.86)">+10%</span></div>
  <div class="t" style="left:1559px;top:136.800px;font-size:6px;font-weight:bold;color:#14b881;"><span class="num" style="transform:scaleX(.86)">+10%</span></div>
  <div class="t" style="left:619.400px;top:154.500px;font-size:5.900px;color:#a0a0a0;">今日销售毛利</div>
  <div class="t" style="left:933.400px;top:154.500px;font-size:5.900px;color:#a0a0a0;">今日销售额</div>
  <div class="t" style="left:1199.400px;top:154.500px;font-size:5.900px;color:#a0a0a0;">今日销售笔数</div>
  <div class="t" style="left:1483.400px;top:154.500px;font-size:5.900px;color:#a0a0a0;">今日资金入账</div>
  <svg class="abs" style="left:1685px;top:116.500px" width="18" height="18" viewBox="0 0 18 18"><circle cx="9" cy="9" r="8.600" fill="#d6d6d6"/><path d="M3.800 9C5.400 6.800 7.100 5.900 9 5.900s3.600.9 5.200 3.100C12.600 11.200 10.900 12.100 9 12.100S5.400 11.200 3.800 9z" fill="none" stroke="#fff" stroke-width="1.100"/><circle cx="9" cy="9" r="1.700" fill="none" stroke="#fff" stroke-width="1.100"/></svg>

  <!-- app grid card -->
  <div class="card" style="left:601px;top:191.800px;width:1108px;height:204.200px;border-radius:7px;"></div>
  <div class="vd" style="left:877.500px;top:191.800px;height:204px;"></div>
  <div class="vd" style="left:1155px;top:191.800px;height:204px;"></div>
  <div class="vd" style="left:1432.500px;top:191.800px;height:204px;"></div>
  <div class="hdv" style="left:601px;top:294px;width:1108px;"></div>
  <div class="sq" style="left:703px;top:202px;background:#739cf8;"></div><div class="pl" style="left:703px;top:268.300px;"></div>
  <div class="sq" style="left:981px;top:202px;background:#739cf8;"></div><div class="pl" style="left:981px;top:268.300px;"></div>
  <div class="sq" style="left:1259px;top:202px;background:#f7c64b;"></div><div class="pl" style="left:1259px;top:268.300px;"></div>
  <div class="sq" style="left:1537px;top:202px;background:#f7c64b;"></div><div class="pl" style="left:1537px;top:268.300px;"></div>
  <div class="sq" style="left:703px;top:314px;background:#7bdeb6;"></div><div class="pl" style="left:703px;top:380.200px;"></div>
  <div class="sq" style="left:981px;top:314px;background:#7bdeb6;"></div><div class="pl" style="left:981px;top:380.200px;"></div>
  <div class="sq" style="left:1259px;top:314px;background:#ea836a;"></div><div class="pl" style="left:1259px;top:380.200px;"></div>
  <div class="sq" style="left:1537px;top:314px;background:#739cf8;"></div><div class="pl" style="left:1537px;top:380.200px;"></div>
  <svg class="abs" style="left:1685px;top:207px" width="18" height="18" viewBox="0 0 18 18"><rect x="1" y="1" width="16" height="16" rx="4" fill="#d9d9d9"/><path d="M12.500 9.500v3.200c0 .5-.4.900-.9.900H5.800c-.5 0-.9-.4-.9-.9V6.600c0-.5.400-.9.900-.9H9" fill="none" stroke="#fff" stroke-width="1.200"/><path d="M8 10.200l.3-2.100 4.500-4.500 1.800 1.800-4.500 4.500z" fill="#fff"/></svg>

  <!-- product ranking -->
  <div class="card" style="left:599.300px;top:414px;width:551px;height:275.600px;border-radius:11px;"></div>
  <div class="t" style="left:621.400px;top:431.500px;font-size:9.800px;color:#3a3a3a;">商品销售额排行</div>
  <svg class="abs" style="left:725px;top:435.500px" width="11" height="11" viewBox="0 0 11 11"><circle cx="5.500" cy="5.500" r="4.200" fill="none" stroke="#6d7bc0" stroke-width=".9"/><text x="5.500" y="7.700" font-size="6" text-anchor="middle" fill="#6d7bc0" font-family="Liberation Sans, sans-serif" font-weight="bold">?</text></svg>
  <div class="abs" style="left:599.300px;top:460.500px;width:551px;height:1.300px;background:#eef0f6;"></div>
  <div class="chip" style="left:621.400px;top:474.900px;width:26.500px;text-align:center;">全年</div>
  <div class="chip" style="left:657.300px;top:474.900px;width:50.300px;text-align:center;">示例商品</div>
  <div class="chip" style="left:715.600px;top:474.900px;width:60.400px;text-align:center;color:#666;">规格：500ml</div>
  <div class="chip" style="left:785.400px;top:474.900px;width:50.200px;text-align:center;color:#666;">属性：红色</div>

  <div class="dot" style="left:621.200px;top:500.300px;width:13px;height:13px;background:#f6c549;"></div>
  <div class="t" style="left:621.200px;top:501.400px;width:13px;text-align:center;font-size:7.500px;color:#fff;">1</div>
  <div class="t" style="left:635.700px;top:502px;font-size:9.600px;color:#555;">蒙牛酸酸乳250ml*12盒</div>
  <div class="t" style="left:1025px;top:503.600px;width:100px;text-align:right;font-size:9px;color:#7a7a7a;">￥12500.00</div>
  <div class="abs" style="left:621.400px;top:520px;width:503.600px;height:5px;border-radius:2.500px;background:#f6c549;"></div>

  <div class="dot" style="left:621.200px;top:536.500px;width:13px;height:13px;background:#739cf8;"></div>
  <div class="t" style="left:621.200px;top:536.600px;width:13px;text-align:center;font-size:7.500px;color:#fff;">2</div>
  <div class="t" style="left:635.700px;top:537.600px;font-size:9.600px;color:#555;">伊利安慕希</div>
  <div class="t" style="left:1081px;top:539.300px;font-size:5.200px;color:#b5b5b5;">￥1000.00</div>
  <div class="abs" style="left:621.400px;top:556.200px;width:500.600px;height:3.700px;border-radius:2px;background:#f4f4f5;"></div>
  <div class="abs" style="left:621.400px;top:556.200px;width:395.300px;height:3.700px;border-radius:2px;background:#739cf8;"></div>

  <div class="dot" style="left:621.200px;top:570.700px;width:13px;height:13px;background:#7bdeb6;"></div>
  <div class="t" style="left:621.200px;top:570.800px;width:13px;text-align:center;font-size:7.500px;color:#fff;">3</div>
  <div class="t" style="left:635.700px;top:571.800px;font-size:9.600px;color:#555;">伊利安慕希</div>
  <div class="t" style="left:1081px;top:573.500px;font-size:5.200px;color:#b5b5b5;">￥1000.00</div>
  <div class="abs" style="left:621.400px;top:590.200px;width:500.600px;height:3.700px;border-radius:2px;background:#f4f4f5;"></div>
  <div class="abs" style="left:621.400px;top:590.200px;width:323.300px;height:3.700px;border-radius:2px;background:#7bdeb6;"></div>

  <div class="dot" style="left:621.200px;top:606.600px;width:13px;height:13px;background:#ea7f66;"></div>
  <div class="t" style="left:621.200px;top:606.700px;width:13px;text-align:center;font-size:7.500px;color:#fff;">4</div>
  <div class="t" style="left:635.700px;top:607.800px;font-size:9.600px;color:#555;">伊利安慕希</div>
  <div class="t" style="left:1081px;top:609.400px;font-size:5.200px;color:#b5b5b5;">￥1000.00</div>
  <div class="abs" style="left:621.400px;top:626.200px;width:500.600px;height:3.700px;border-radius:2px;background:#f4f4f5;"></div>
  <div class="abs" style="left:621.400px;top:626.200px;width:265.200px;height:3.700px;border-radius:2px;background:#ea7f66;"></div>

  <div class="dot" style="left:621.200px;top:642.400px;width:13px;height:13px;background:#6f7aa0;"></div>
  <div class="t" style="left:621.200px;top:642.500px;width:13px;text-align:center;font-size:7.500px;color:#fff;">5</div>
  <div class="t" style="left:635.700px;top:643.600px;font-size:9.600px;color:#555;">伊利安慕希</div>
  <div class="t" style="left:1081px;top:645.400px;font-size:5.200px;color:#b5b5b5;">￥1000.00</div>
  <div class="abs" style="left:621.400px;top:662px;width:500.600px;height:3.700px;border-radius:2px;background:#f4f4f5;"></div>
  <div class="abs" style="left:621.400px;top:662px;width:159.300px;height:3.700px;border-radius:2px;background:#6f7aa0;"></div>

  <!-- customer ranking chart -->
  <div class="card" style="left:1158.400px;top:414px;width:551px;height:275.600px;border-radius:11px;"></div>
  <div class="t" style="left:1181.400px;top:431.500px;font-size:9.800px;color:#3a3a3a;">客户销售额排行</div>
  <div class="t" style="left:1653.300px;top:446.800px;font-size:9.300px;color:#2a62e0;">详情</div>
  <div class="abs" style="left:1158.400px;top:460.500px;width:551px;height:1.300px;background:#eef0f6;"></div>
  <div class="chip" style="left:1181.400px;top:474.900px;width:26.500px;"><span style="position:absolute;left:4px;top:-1.500px;font-size:8px;">全年</span></div>
  <div class="chip" style="left:1214px;top:474.900px;width:50px;"><span style="position:absolute;left:5px;top:-3.500px;font-size:5.400px;">示例商品</span></div>
  <div class="chip" style="left:1277.600px;top:474.900px;width:60.700px;"><span style="position:absolute;left:4px;top:-3.500px;font-size:5.400px;">规格：500ml</span></div>
  <div class="chip" style="left:1345.400px;top:474.900px;width:50.200px;"><span style="position:absolute;left:4px;top:-3.500px;font-size:5.400px;">属性：红色</span></div>
  <svg class="abs" style="left:0;top:0" width="2217" height="1070" viewBox="0 0 2217 1070">
    <g stroke="#efefef" stroke-width="1.100">
      <path d="M1202.400 503.700H1672M1202.400 522H1672M1202.400 542.400H1672M1202.400 563.200H1672M1202.400 583.900H1672M1202.400 604.700H1672M1202.400 625.400H1672"/>
    </g>
    <path d="M1202.400 643.400H1672" stroke="#777" stroke-width="1.400"/>
    <path d="M1241 643.400v2.200M1319.300 643.400v2.200M1397.900 643.400v2.200M1476 643.400v2.200M1554.300 643.400v2.200M1632.800 643.400v2.200" stroke="#777" stroke-width="1"/>
    <g font-family="Liberation Sans, sans-serif" font-size="3.600" fill="#c4c4c4" text-anchor="end">
      <text x="1188" y="501.500">700</text><text x="1188" y="519.800">600</text><text x="1188" y="540.600">500</text><text x="1188" y="560.800">400</text><text x="1188" y="581.800">300</text><text x="1188" y="602.600">200</text><text x="1188" y="622.800">100</text><text x="1194" y="640.600">0</text>
    </g>
    <g font-family="Liberation Sans, sans-serif" font-size="3.400" fill="#c8c8c8" text-anchor="middle">
      <text x="1232" y="652.800">2019-01</text><text x="1310.300" y="652.800">2019-02</text><text x="1388.900" y="652.800">2019-03</text><text x="1467" y="652.800">2019-04</text><text x="1545.300" y="652.800">2019-05</text><text x="1623.800" y="652.800">2019-06</text>
    </g>
    <path d="M1241 508C1262 560 1290 622 1319.300 632C1343 641 1368 624 1397.900 619.500C1424 615.600 1449 617.500 1476 610.300C1504 602.800 1529 587 1554.300 569.600C1584 549 1610 523 1632.800 501" fill="none" stroke="#5b86ef" stroke-width="3.400" stroke-linecap="round"/>
    <path d="M1241 535C1268 547 1294 562.500 1319.300 562C1349 561 1368 527 1394 527.600C1428 528 1446 592 1479.400 592.900C1512 593.500 1523 545 1552.300 545.800C1588 547 1612 592 1632.800 620" fill="none" stroke="#5ccf9f" stroke-width="3.400" stroke-linecap="round"/>
    <path d="M1184.200 675.300h19.800" stroke="#5b86ef" stroke-width="3.400"/><circle cx="1194.100" cy="675.300" r="3.400" fill="#fff" stroke="#5b86ef" stroke-width="2.600"/>
    <path d="M1262.700 675.300h19.800" stroke="#5ccf9f" stroke-width="3.400"/><circle cx="1272.600" cy="675.300" r="3.400" fill="#fff" stroke="#5ccf9f" stroke-width="2.600"/>
  </svg>
  <div class="t" style="left:1209.400px;top:670px;font-size:9.900px;color:#b9b9b9;">销售额</div>
  <div class="t" style="left:1287.400px;top:670px;font-size:9.700px;color:#d0d0d0;">销售毛利</div>
  <!-- sales overview 1 -->
  <div class="card" style="left:599.300px;top:697.900px;width:551px;height:276.100px;border-radius:11px;"></div>
  <div class="t" style="left:621.400px;top:711.700px;font-size:9.800px;color:#3a3a3a;">销售概况</div>
  <div class="t" style="left:1115.700px;top:717px;font-size:9.300px;color:#2a62e0;">详情</div>
  <div class="abs" style="left:599.300px;top:738.500px;width:551px;height:1.300px;background:#eef0f6;"></div>
  <div class="chip" style="left:621.400px;top:750.800px;width:26.500px;"><span style="position:absolute;left:4px;top:-1.500px;font-size:8px;">全年</span></div>
  <div class="chip" style="left:657.300px;top:750.800px;width:50.300px;"><span style="position:absolute;left:5px;top:-3.500px;font-size:5.400px;">示例商品</span></div>
  <div class="chip" style="left:715.600px;top:750.800px;width:60.400px;"><span style="position:absolute;left:4px;top:-3.500px;font-size:5.400px;">规格：500ml</span></div>
  <div class="chip" style="left:785.400px;top:750.800px;width:50.200px;"><span style="position:absolute;left:4px;top:-3.500px;font-size:5.400px;">属性：红色</span></div>

  <div class="t" style="left:641.600px;top:781.700px;width:200px;text-align:center;font-size:10px;color:#333;">销售额（元）</div>
  <div class="t" style="left:635px;top:801.700px;width:200px;text-align:center;font-size:19px;color:#222;">132830.00</div>
  <div class="t" style="left:705.500px;top:831.700px;font-size:9.600px;color:#9a9a9a;">较上期</div>
  <div class="t" style="left:752.600px;top:831.900px;font-size:9.600px;color:#52b043;">+10%</div>
  <div class="abs" style="left:875px;top:786.700px;width:1.200px;height:53.300px;background:#ededf0;"></div>
  <div class="t" style="left:907px;top:781.700px;width:200px;text-align:center;font-size:10px;color:#333;">销售笔数</div>
  <div class="t" style="left:907px;top:800.700px;width:200px;text-align:center;font-size:21px;font-weight:bold;color:#1c1c1c;">25</div>
  <div class="t" style="left:975.500px;top:831.700px;font-size:9.600px;color:#9a9a9a;">较上期</div>
  <div class="t" style="left:1017px;top:831.700px;font-size:9.600px;color:#52b043;">持平</div>
  <div class="abs" style="left:621.400px;top:864.100px;width:508.300px;height:1.300px;background:#ebebee;"></div>
  <div class="t" style="left:630px;top:887.400px;width:200px;text-align:center;font-size:10px;color:#333;">销售毛利（元）</div>
  <div class="t" style="left:630.200px;top:907.300px;width:200px;text-align:center;font-size:19.500px;font-weight:bold;color:#1c1c1c;">1938.02</div>
  <div class="t" style="left:695.700px;top:935.600px;font-size:9.600px;color:#9a9a9a;">较上期</div>
  <div class="t" style="left:743.600px;top:935.400px;font-size:7.300px;color:#e8604c;">-10%</div>
  <div class="abs" style="left:875px;top:891.300px;width:1.200px;height:52.400px;background:#ededf0;"></div>
  <div class="t" style="left:901.600px;top:887.400px;width:200px;text-align:center;font-size:10px;color:#444;">毛利率</div>
  <div class="t" style="left:901px;top:907.400px;width:200px;text-align:center;font-size:19.500px;color:#222;">15%</div>
  <div class="t" style="left:965.700px;top:935.600px;font-size:9.600px;color:#9a9a9a;">较上期</div>
  <div class="t" style="left:1012.500px;top:935.800px;font-size:9.600px;color:#52b043;">+10%</div>

  <!-- sales overview 2 -->
  <div class="card" style="left:1158.400px;top:697.900px;width:551px;height:276.100px;border-radius:11px;"></div>
  <div class="t" style="left:1181.400px;top:711.700px;font-size:9.800px;color:#3a3a3a;">销售概况</div>
  <div class="t" style="left:1675.700px;top:717px;font-size:9.300px;color:#2a62e0;">详情</div>
  <div class="abs" style="left:1158.400px;top:738.500px;width:551px;height:1.300px;background:#eef0f6;"></div>
  <div class="chip" style="left:1181.400px;top:750.800px;width:26.500px;"><span style="position:absolute;left:4px;top:-1.500px;font-size:8px;">全年</span></div>
  <div class="chip" style="left:1217.300px;top:750.800px;width:50.300px;"><span style="position:absolute;left:5px;top:-3.500px;font-size:5.400px;">示例商品</span></div>
  <div class="chip" style="left:1277.600px;top:750.800px;width:60.700px;"><span style="position:absolute;left:4px;top:-3.500px;font-size:5.400px;">规格：500ml</span></div>
  <div class="chip" style="left:1345.400px;top:750.800px;width:50.200px;"><span style="position:absolute;left:4px;top:-3.500px;font-size:5.400px;">属性：红色</span></div>
  <div class="t" style="left:1330.400px;top:781.700px;width:200px;text-align:center;font-size:10px;color:#333;">销售额（元）</div>
  <div class="t" style="left:1327px;top:801.700px;width:200px;text-align:center;font-size:19px;color:#222;">132830.00</div>
  <div class="t" style="left:1399.500px;top:831.700px;font-size:9.600px;color:#9a9a9a;">较上期</div>
  <div class="t" style="left:1444.400px;top:831.900px;font-size:9.600px;color:#52b043;">+10%</div>
  <div class="abs" style="left:1181.400px;top:864.100px;width:506.400px;height:1.300px;background:#ebebee;"></div>
  <div class="t" style="left:1193.600px;top:887.400px;width:200px;text-align:center;font-size:10px;color:#333;">销售毛利（元）</div>
  <div class="t" style="left:1194.400px;top:907.300px;width:200px;text-align:center;font-size:19.500px;font-weight:bold;color:#1c1c1c;">1938.02</div>
  <div class="t" style="left:1259.300px;top:935.600px;font-size:9.600px;color:#9a9a9a;">较上期</div>
  <div class="t" style="left:1305.600px;top:935.400px;font-size:7.300px;color:#e8604c;">-10%</div>
  <div class="abs" style="left:1433.500px;top:891.300px;width:1.200px;height:52.400px;background:#ededf0;"></div>
  <div class="t" style="left:1469.700px;top:887.400px;width:200px;text-align:center;font-size:10px;color:#444;">毛利率</div>
  <div class="t" style="left:1467.500px;top:907.400px;width:200px;text-align:center;font-size:19.500px;color:#222;">15%</div>
  <div class="t" style="left:1533.300px;top:935.600px;font-size:9.600px;color:#9a9a9a;">较上期</div>
  <div class="t" style="left:1578.400px;top:935.800px;font-size:9.600px;color:#52b043;">+10%</div>

  <!-- right column -->
  <div class="card" style="left:1721px;top:109.700px;width:222.200px;height:106.300px;border-radius:9px;"></div>
  <div class="t" style="left:1735.400px;top:126.800px;font-size:10px;color:#222;">推荐浏览器</div>
  <div class="t" style="left:1735.400px;top:150.800px;font-size:5.900px;color:#999;">使用最新的Chrome或者360安全浏览器,</div>
  <div class="t" style="left:1735.400px;top:160.700px;font-size:5.900px;color:#999;">能获得最佳体验。</div>
  <div class="abs" style="left:1735px;top:184.300px;width:66px;height:21.500px;border-radius:6px;background:#2f6cf3;"></div>
  <div class="t" style="left:1739.500px;top:191px;font-size:7.800px;font-weight:bold;color:#fff;letter-spacing:-.3px;">下载Chrome</div>
  <div class="abs" style="left:1809.500px;top:184.500px;width:80.500px;height:22.300px;box-sizing:border-box;border:1.700px solid #d2d2d2;border-radius:6.500px;background:#fff;"></div>
  <div class="t" style="left:1816.800px;top:189px;font-size:8px;color:#999;letter-spacing:.2px;">下载360浏览器</div>

  <div class="card" style="left:1721px;top:224px;width:222.200px;height:91.600px;border-radius:9px;"></div>
  <div class="t" style="left:1735.400px;top:241.600px;font-size:9px;color:#333;">新手任务（1/7）</div>
  <svg class="abs" style="left:1922px;top:239.500px" width="12" height="9" viewBox="0 0 12 9"><ellipse cx="6" cy="4.500" rx="5.400" ry="3.600" fill="#d9d9d9"/><circle cx="6" cy="4.500" r="1.600" fill="#fff" opacity=".8"/></svg>
  <div class="t" style="left:1735.400px;top:264.600px;font-size:5.700px;color:#999;">了解七色米进销存能帮我做什么</div>
  <div class="abs" style="left:1735px;top:284px;width:54px;height:21.700px;border-radius:6px;background:#2f6cf3;"></div>
  <div class="t" style="left:1735px;top:289.600px;width:54px;text-align:center;font-size:10px;font-weight:bold;color:#fff;">开始了解</div>
  <svg class="abs" style="left:0;top:0" width="2217" height="1070" viewBox="0 0 2217 1070">
    <clipPath id="mtc"><path d="M1860 262h83.200v44.600a9 9 0 0 1-9 9H1860z"/></clipPath>
    <g clip-path="url(#mtc)">
      <path d="M1872 315.600c6-4 14-7 22-7l20-2 29 3v6z" fill="#e9eaf0"/>
      <path d="M1928 276l15-6v45.600h-34z" fill="#dcdfe9"/>
      <path d="M1884 315.600l14-12 8-4 10-19 6-10 6 4 4 10 6 8 5 23z" fill="#6b74a3"/>
      <path d="M1916 280.600l6-10 3 2-2 8 3 9-5-4z" fill="#8a92ba"/>
      <path d="M1932 315.600l6-18 5-10v28z" fill="#9aa1c4"/>
      <!-- climber 1 -->
      <rect x="1887" y="287" width="7" height="11" rx="2" fill="#2d3559"/>
      <path d="M1893 286.500h5.500l2 12h-8z" fill="#e9793a"/>
      <circle cx="1895.800" cy="283" r="2.300" fill="#f0c2a0"/><path d="M1893.300 282.300a2.500 2.500 0 0 1 5 0z" fill="#2a2f4c"/>
      <path d="M1892.500 298h7.500l1 16h-2.800l-1.700-11-2.200 11h-2.800z" fill="#333b66"/>
      <path d="M1898 289.500l6 6" stroke="#e9793a" stroke-width="1.800"/><path d="M1906.500 295v20" stroke="#333" stroke-width=".8"/>
      <!-- climber 2 -->
      <circle cx="1938.500" cy="283.500" r="2.200" fill="#f0c2a0"/><path d="M1936 283a2.500 2.500 0 0 1 5-.6z" fill="#e9a23a"/>
      <path d="M1935.500 286.500h7.500v14h-7.500z" fill="#3b4470"/>
      <path d="M1931 304l5-5h7v6.500l-5 1.500-1 8.500h-3l-.5-10z" fill="#4a5488"/>
      <path d="M1925.500 297v18" stroke="#333" stroke-width=".8"/><path d="M1936 289l-9 9" stroke="#c5c9dc" stroke-width="1.600"/>
    </g>
  </svg>

  <div class="card" style="left:1720.800px;top:323.800px;width:222.400px;height:274.200px;border-radius:9px;"></div>
  <div class="t" style="left:1735.200px;top:335px;font-size:10.400px;color:#2a2a2a;">待办事项</div>
  <div class="abs" style="left:1735.200px;top:358.200px;width:189px;height:49.400px;border-radius:11px;background:#f6f7f8;"></div>
  <div class="abs" style="left:1735.200px;top:415.800px;width:91px;height:49.700px;border-radius:11px;background:#f6f7f8;"></div>
  <div class="abs" style="left:1833.700px;top:415.800px;width:90.600px;height:49.700px;border-radius:11px;background:#f6f7f8;"></div>
  <div class="abs" style="left:1735.200px;top:473.700px;width:91px;height:48.100px;border-radius:11px;background:#f6f7f8;"></div>
  <div class="abs" style="left:1833.700px;top:473.700px;width:90.600px;height:48.100px;border-radius:11px;background:#f6f7f8;"></div>
  <div class="abs" style="left:1735.200px;top:530.300px;width:91px;height:49.100px;border-radius:11px;background:#f6f7f8;"></div>
  <div class="abs" style="left:1833.700px;top:530.300px;width:90.600px;height:49.100px;border-radius:11px;background:#f6f7f8;"></div>
  <div class="t" style="left:1742.400px;top:365.400px;font-size:4.400px;color:#888;">销售订单</div>
  <div class="t" style="left:1742.400px;top:423.300px;font-size:4.400px;color:#888;">销售退货单</div>
  <div class="t" style="left:1842.600px;top:424px;font-size:6.300px;color:#b2b2b2;letter-spacing:.5px;">进货订单</div>
  <div class="t" style="left:1742.400px;top:481.500px;font-size:4.400px;color:#888;">待出库</div>
  <div class="t" style="left:1842.600px;top:481.500px;font-size:4.400px;color:#888;">待入库</div>
  <div class="t" style="left:1742.400px;top:539.200px;font-size:4.400px;color:#888;">库存预警</div>
  <div class="t" style="left:1842.600px;top:539.200px;font-size:4.400px;color:#888;">应收欠款</div>
  <div class="t" style="left:1742.200px;top:384.600px;font-size:12.500px;color:#222;"><span class="num" style="transform:scaleX(.92)">88</span></div>
  <div class="t" style="left:1742.200px;top:442.500px;font-size:12.500px;color:#222;"><span class="num" style="transform:scaleX(.92)">88</span></div>
  <div class="t" style="left:1842.600px;top:442.500px;font-size:12.500px;color:#222;"><span class="num" style="transform:scaleX(.92)">88</span></div>
  <div class="t" style="left:1742.200px;top:500.300px;font-size:12.500px;color:#222;"><span class="num" style="transform:scaleX(.92)">88</span></div>
  <div class="t" style="left:1842.600px;top:500.300px;font-size:12.500px;color:#222;"><span class="num" style="transform:scaleX(.92)">88</span></div>
  <div class="t" style="left:1742.200px;top:557.200px;font-size:12.500px;color:#222;"><span class="num" style="transform:scaleX(.92)">88</span></div>
  <div class="t" style="left:1842.600px;top:557.200px;font-size:12.500px;color:#222;"><span class="num" style="transform:scaleX(.92)">88</span></div>

  <div class="card" style="left:1721px;top:603.700px;width:222.200px;height:60.100px;border-radius:4px;"></div>
  <svg class="abs" style="left:1731px;top:615px" width="37" height="37" viewBox="0 0 37 37">
    <clipPath id="avn"><circle cx="18.500" cy="18.500" r="17"/></clipPath>
    <circle cx="18.500" cy="18.500" r="17.300" fill="#c9cbd3"/>
    <g clip-path="url(#avn)"><rect x="0" y="0" width="37" height="37" fill="#cfd1d8"/><rect x="9" y="5" width="20" height="28" fill="#e8e9ec" transform="rotate(-8 18 18)"/><rect x="10" y="2" width="12" height="5" fill="#b5d64a" transform="rotate(-8 18 18)"/><path d="M10 14h14M10 18h14M10 22h10M10 26h13" stroke="#8f939f" stroke-width="1.500" transform="rotate(-8 18 18)"/><rect x="27" y="8" width="10" height="24" fill="#9da1ad"/></g>
  </svg>
  <div class="t" style="left:1784.600px;top:619.400px;font-size:7.600px;color:#333;">秦雷</div>
  <div class="t" style="left:1774.800px;top:640.600px;font-size:9.300px;color:#8d8d8d;letter-spacing:.1px;">刚刚确认了订单XSD20190830001</div>

  <div class="card" style="left:1721px;top:672.400px;width:222.200px;height:70px;border-radius:9px;"></div>

  <div class="card" style="left:1721px;top:751px;width:222.200px;height:119.600px;border-radius:9px;"></div>
  <div class="t" style="left:1734.700px;top:766.500px;font-size:8.200px;font-weight:bold;color:#222;">在线客服</div>
  <div class="t" style="left:1734.700px;top:789.400px;font-size:3.900px;color:#777;">七色米的专业客服随时解答，帮助您合理使用软件。</div>
  <div class="t" style="left:1734.700px;top:806.600px;font-size:5.600px;color:#777;letter-spacing:.15px;">专属热线：13901230123</div>
  <div class="abs" style="left:1735.500px;top:830.600px;width:79px;height:22.400px;box-sizing:border-box;border:1.800px solid #d2d2d2;border-radius:7px;background:#fff;"></div>
  <div class="abs" style="left:1820px;top:830.600px;width:78.400px;height:22.400px;box-sizing:border-box;border:1.800px solid #d2d2d2;border-radius:7px;background:#fff;"></div>
  <svg class="abs" style="left:1740px;top:833px" width="20" height="18" viewBox="0 0 20 18"><ellipse cx="7.600" cy="7.400" rx="5.600" ry="4.800" fill="#2fc06f"/><path d="M4.200 10.500l-.8 2.800 3-1.600z" fill="#2fc06f"/><ellipse cx="12.800" cy="11" rx="4.800" ry="4.100" fill="#2fc06f" stroke="#fff" stroke-width=".8"/><path d="M15.500 14l.8 2.200-2.600-1.200z" fill="#2fc06f"/><circle cx="5.700" cy="6.400" r=".7" fill="#fff"/><circle cx="9.500" cy="6.400" r=".7" fill="#fff"/><circle cx="11.300" cy="10.200" r=".6" fill="#fff"/><circle cx="14.300" cy="10.200" r=".6" fill="#fff"/></svg>
  <div class="t" style="left:1765.500px;top:836.400px;font-size:9.300px;color:#888;letter-spacing:.5px;">微信咨询</div>
  <svg class="abs" style="left:1825px;top:834px" width="16" height="16" viewBox="0 0 16 16"><circle cx="8" cy="8" r="6.500" fill="#f7a83a"/><path d="M5.500 4.500l1.800 2-1 1.200c.6 1.300 1.500 2.200 2.800 2.800l1.200-1 2 1.800c-.6 1.200-1.700 1.500-3 1.100-2.600-.9-4.400-2.700-5.300-5.300-.4-1.300-.1-2.400 1.500-2.600z" fill="#fff"/></svg>
  <div class="t" style="left:1848.500px;top:836.400px;font-size:9.300px;color:#888;letter-spacing:.5px;">电话咨询</div>

  <div class="card" style="left:1721px;top:878.500px;width:222.200px;height:93px;border-radius:9px;"></div>
  <div class="t" style="left:1735px;top:890.600px;font-family:'Liberation Serif','Noto Serif CJK SC',serif;font-weight:bold;font-size:10.300px;color:#1a1a1a;">生意经</div>
  <div class="t" style="left:1918.500px;top:888.500px;font-size:5.600px;color:#2a62e0;">更多</div>
  <div class="t" style="left:1735px;top:914.300px;font-family:'Liberation Serif','Noto Serif CJK SC',serif;font-weight:600;font-size:10.400px;color:#1a1a1a;">WeWork如何把二房东做</div>
  <div class="t" style="left:1735px;top:935.800px;font-family:'Liberation Serif','Noto Serif CJK SC',serif;font-size:16px;color:#8c8c8c;">2021年末,</div>
  <div class="abs" style="left:1869px;top:929.500px;width:66px;height:27.500px;border-radius:5px;background:linear-gradient(180deg,#a81f1f 0%,#8f1616 60%,#7a1515 100%);overflow:hidden;">
    <div class="t" style="left:-5px;top:1.500px;font-family:'Liberation Serif',serif;font-weight:bold;font-size:18px;letter-spacing:-.8px;color:#f3e9e4;">wework</div>
    <div class="dot" style="left:26px;top:21px;width:6px;height:6px;background:#3a2a26;"></div>
  </div>
  </div>
 </div>
</div>
<!-- ============ ILLUSTRATIONS ============ -->
<svg class="abs" style="left:0;top:0;z-index:10" width="2217" height="1070" viewBox="0 0 2217 1070">
  <defs>
    <pattern id="tex" width="3" height="3" patternUnits="userSpaceOnUse"><rect width="3" height="3" fill="#13306d"/><circle cx="1" cy="1" r=".7" fill="#0f2759"/></pattern>
  </defs>
  <!-- ground shadows -->
  <rect x="103" y="1029.500" width="487" height="36" rx="18" fill="#e6ebf8"/>
  <rect x="1758" y="1022.500" width="282" height="46" rx="23" fill="#e6ebf8"/>

  <!-- plant -->
  <g>
    <path d="M101.6 793.5C103.2 802.5 109.2 811.0 114.9 822.1C120.6 833.2 129.8 848.7 135.5 860.0C141.2 871.3 144.2 881.6 148.9 889.8C153.6 898.0 159.2 904.3 163.7 909.1C168.1 913.9 172.1 917.1 175.6 918.8C179.1 920.5 182.1 920.1 184.6 919.5C187.1 918.9 189.0 918.8 190.5 915.1C192.0 911.4 192.2 906.4 193.5 897.2C194.8 888.0 198.4 873.0 198.0 860.0C197.6 847.0 194.4 831.1 191.2 819.0C187.9 806.9 183.8 796.2 178.5 787.2C173.2 778.2 166.3 770.5 159.4 764.9C152.5 759.3 143.5 755.4 137.2 753.8C130.8 752.2 126.6 753.0 121.3 755.4C116.0 757.8 108.7 761.8 105.4 768.1C102.1 774.5 100.0 784.5 101.6 793.5Z" fill="#3a9e14"/>
    <path d="M208.4 930.0C204.4 929.5 199.4 927.2 196.5 922.5C193.6 917.8 191.0 911.5 191.2 901.6C191.4 891.8 193.9 876.1 197.6 863.4C201.3 850.7 207.6 836.4 213.4 825.3C219.2 814.2 225.1 803.2 232.5 796.7C239.9 790.2 251.0 787.4 257.9 786.6C264.8 785.8 270.2 788.7 273.8 792.0C277.4 795.3 280.0 800.1 279.5 806.2C279.0 812.3 274.7 821.1 270.6 828.5C266.5 835.9 259.1 842.2 254.7 850.7C250.3 859.2 247.8 870.4 244.1 879.4C240.3 888.4 236.2 897.0 232.2 904.7C228.2 912.4 224.3 921.3 220.3 925.5C216.3 929.7 212.4 930.5 208.4 930.0Z" fill="#b8e63c"/>
    <path d="M262.0 860.0C266.5 860.0 274.0 865.2 276.9 868.9C279.8 872.6 280.1 876.3 279.1 882.3C278.1 888.3 275.2 896.5 270.9 904.7C266.5 912.9 258.9 924.1 253.0 931.5C247.1 938.9 240.1 945.5 235.2 949.3C230.2 953.1 227.0 954.2 223.3 954.5C219.6 954.8 215.0 953.1 212.9 950.8C210.8 948.4 209.6 944.9 210.6 940.4C211.6 935.9 214.7 931.2 218.8 924.0C222.9 916.8 230.0 906.4 235.2 897.2C240.4 888.0 245.6 875.1 250.1 868.9C254.6 862.7 257.5 860.0 262.0 860.0Z" fill="#3a9e14"/>
    <path d="M123.5 886.8C125.1 885.8 127.8 883.5 131.0 883.8C134.2 884.0 137.9 884.8 142.9 888.3C147.9 891.8 155.4 898.2 160.8 904.7C166.2 911.2 172.2 920.3 175.6 927.0C178.9 933.7 180.7 940.5 180.9 944.8C181.2 949.1 179.0 951.5 177.1 953.0C175.2 954.5 173.4 955.9 169.7 953.8C166.0 951.7 160.3 946.6 154.8 940.4C149.3 934.2 142.1 923.8 136.9 916.6C131.7 909.4 126.1 901.7 123.5 897.2C120.9 892.7 121.3 891.5 121.3 889.8C121.3 888.1 121.9 887.8 123.5 886.8Z" fill="#b8e63c"/>
    <g fill="none" stroke="#26336b" stroke-width="1.100">
      <path d="M143.500 800.500C165 820 185 880 189.600 965.700"/>
      <path d="M227 858.700C210 885 200 925 196.900 965.700"/>
      <path d="M233.500 915.200C222 928 213 950 210.200 965.700"/>
      <path d="M159.400 921.600C168 932 178 952 182.300 965.700"/>
    </g>
    <g fill="#fff">
      <circle cx="127" cy="803.700" r="6.800"/><circle cx="181" cy="823.700" r="6.800"/><circle cx="160" cy="869.500" r="3.300"/>
      <circle cx="227" cy="827" r="4.300"/><circle cx="262.400" cy="809" r="4.300"/><circle cx="233.500" cy="874.200" r="5"/><circle cx="141" cy="905.700" r="4.400"/>
    </g>
    <rect x="145" y="965.700" width="99.600" height="77.200" rx="6.500" fill="#26336b"/>
  </g>

  <!-- ===== woman left ===== -->
  <g>
    <!-- back leg / pants -->
    <path d="M373 715H412V850H373Z" fill="#26336b"/>
    <!-- leg B (right, behind) -->
    <path d="M367.500 880L416.800 890C421 915 424 935 424.700 952.400L428 988H381.500L381.800 966C378 940 372 910 367.500 880Z" fill="#26336b"/>
    <path d="M397.700 1000L426.300 1000L439 1038.200L423.100 1044.500L407.200 1035L397.700 1027Z" fill="#fdc9a0"/>
    <path d="M381.200 985.800L429.500 984.200L431.100 1004.800L385 1007Z" fill="#4d5c98"/>
    <path d="M397.700 1027C401 1030 404 1033 407.200 1035C413 1039.500 418 1042.500 423.100 1044.500C429 1043 434 1040.500 439 1038.200C447 1040 453 1043.500 456.500 1047.700C458 1053 456.500 1057 453.300 1058.800C445 1060 437 1059 429.500 1057.200C418 1054 407 1049 399.300 1044.500C397 1039 396.500 1032 397.700 1027Z" fill="#26336b"/>
    <!-- leg A (front, to left foot) -->
    <path d="M352 830L444 824C443 840 441 848 440.600 850C438 860 432 870 426.300 882.500C412 912 397 940 381.800 966.700L335.800 952.400C348 930 360 905 365.900 882.500C364 870 360 858 356.400 846Z" fill="#26336b"/>
    <path d="M338 968L370 980L365.900 987.300C362 1000 360 1012 359.600 1022.300L343.700 1016C339 1008 335.500 1000 334.200 993.700Z" fill="#fdc9a0"/>
    <path d="M335.800 952.400L381.800 966.700L372.300 987.300L329.400 971.500Z" fill="#4d5c98"/>
    <path d="M332.600 990.500C333 994 333.600 992 334.200 993.700C336 1001 339.500 1009 343.700 1016C349 1019.500 354 1021.500 359.600 1022.300C364 1026 367.500 1030 369.100 1035C369.500 1040 368 1044 365.900 1046.100C357 1043 349 1038 343.700 1031.800C335 1023 328 1013 324.600 1004.800C326 999 329 994 332.600 990.500Z" fill="#26336b"/>

    <!-- shirt -->
    <path d="M365 530C378 534 392 534 405.500 532L421 620L413 719C400 722 387 722 377 719L375.500 622Z" fill="#157ffb"/>
    <path d="M370 536C381 541.500 394 541.500 404 537.500" fill="none" stroke="#1169d8" stroke-width=".9"/>

    <!-- neck + face -->
    <path d="M363.200 484L363.200 524L366 531C378 535 392 535 404.500 532.500L402 527L401.800 511.600Z" fill="#fdc9a0"/>
    <!-- hair back -->
    <circle cx="344.900" cy="452.700" r="14.400" fill="#26336b"/>
    <path d="M341 472.300C341 455 355 442 372 438.500C382 433 392 430.500 399 431.100C410 433 421 444 424.700 460.600C424.500 466 422.500 470 420.700 472.300L419 486L364 520C356 520.500 349 518 346.200 514.200C342 510 339.500 505 340.300 501.100C341 495 345 490 345 484C344 480 341.500 477 341 472.300Z" fill="#26336b"/>
    <!-- face -->
    <path d="M363.200 486C364 476 370 468 378.500 462C384.500 458 389.500 454.500 392.600 450.100L393.900 464.500C396 459.500 399.500 455 403.700 452.700C408 455 412 458 414.200 460.600C417.500 464 419.500 468 420.700 472.300L419.400 485C419 490 418.500 491.500 418.100 493.300C417 499 414 504.500 410 507.500C406 509.800 402 510.500 398.500 510.300L401.800 511.600L401.800 527L363.200 524Z" fill="#fdc9a0"/>
    <circle cx="357.300" cy="489.300" r="7.200" fill="#fdc9a0"/>
    <path d="M381.500 510.300H399.500" stroke="#e9a983" stroke-width=".9"/>
    <!-- glasses -->
    <path d="M363.200 477.600H373.300" stroke="#8e97bb" stroke-width="1.400"/>
    <circle cx="384.800" cy="476.900" r="11.200" fill="#fff" stroke="#4a5478" stroke-width="1.700"/>
    <circle cx="410.900" cy="474.700" r="10.200" fill="#fff" stroke="#4a5478" stroke-width="1.700"/>
    <path d="M396 475.300C398 474 399.500 474 400.700 475" fill="none" stroke="#4a5478" stroke-width="1.600"/>
    <ellipse cx="387.600" cy="476.500" rx="1.900" ry="2.800" fill="#1d2450"/>
    <ellipse cx="410.900" cy="474.900" rx="1.900" ry="2.800" fill="#1d2450"/>
    <path d="M390.600 491.300C393.500 492.800 396.800 492.800 399.800 491.700" fill="none" stroke="#e8402a" stroke-width="1.500" stroke-linecap="round"/>

    <!-- coat: right panel (viewer right) -->
    <path d="M403.700 520.700L418.100 529.900C440 536 456 545 462.100 558.100L458 600L454.400 656.800L455 730L451.700 819C449 826 445 831 440.600 833.300C430 837.500 419 840 408.800 841.200L410.400 730L412.700 718.500L413.500 622.900L410 570L405.500 532Z" fill="#c5d3ec"/>
    <!-- coat: left panel + arm -->
    <path d="M359.200 520.700L352.600 522.600C335 535 315 540 300.100 548.800C290 556 286 575 284 600L281.600 626C280.500 640 284 650 290.900 653.700C296 658 300 661 304.700 662.400L317 662.400L315.500 700L311.300 825.300C318 832 326 836 334.200 838C347 842.500 360 845 372.300 846L373.900 730L377.200 718.500L375.700 622.900L365.500 531Z" fill="#c5d3ec"/>
    <!-- forearm -->
    <path d="M312.500 616.100L408.100 626L408.100 662.400L304.700 662.400C296 660 289 655 286 648C284 640 288 630 296 624Z" fill="#c5d3ec"/>
    <g fill="none" stroke="#8c9bc2" stroke-width="1.100" stroke-linecap="round">
      <path d="M349.500 528.800C352 560 360 595 369.500 619.800"/>
      <path d="M418.900 533.400C421.500 565 422 600 421 622.900"/>
      <path d="M312.500 616.100L408.100 626"/>
      <path d="M304.700 662.400H408.100"/>
      <path d="M396.500 625V662" stroke-width="1"/>
      <path d="M408.100 626V662.400"/>
      <path d="M312.800 699L343.100 705.600L340.600 760C340.600 763.500 338.500 765 335 765.200L312.800 767"/>
      <path d="M451.600 701.500L434.900 706.600V767.100L454 759.600"/>
    </g>
    <!-- tablet -->
    <path d="M445.500 570L449 567.500L429 628L431.500 640Z" fill="#a8b7de"/>
    <path d="M453 567.300L559.500 566.800C564 566.800 566.300 570 565 574L543.800 647.500C542.600 651.300 540 653 536 653L457 652.600C449 652 440 647.500 434 641.500C431.800 639 431 636.500 431.800 633.500L447.500 571C448.200 568.500 450.200 567.300 453 567.300Z" fill="#26336b"/>
    <!-- left hand -->
    <path d="M408.100 628L420 630.500C428 626 437 625.500 443.500 629C446 630.500 445.500 633 443 633.500L433 636.500L452 648.500C455.500 651 455 654.500 451 654.500L436 660C428 663.500 418 663.500 408.100 661Z" fill="#fdc9a0"/>
    <path d="M424 647C431 651 440 653.500 449 654" fill="none" stroke="#eaa47f" stroke-width=".8"/>
    <!-- right hand -->
    <path d="M541.500 626C546 620 554 617 561.500 616.500C564.500 617 564.500 620 562.500 622L563.900 628C563.500 636 561 643 557.700 647.600C553 650.500 547 650.500 542.300 649.100Z" fill="#fdc9a0"/>
    <path d="M548 628.500L562 626M547 635.500L562 633.500M546 642L560 640.500" stroke="#eaa47f" stroke-width=".8" fill="none"/>
  </g>

  <!-- ===== woman right ===== -->
  <g>
    <!-- legs -->
    <path d="M1855.700 700C1850 740 1840 780 1837.500 807.500C1833 850 1832 900 1837.500 1000.700L1859.300 1000.700C1862 960 1866 930 1872 906C1880 870 1894 830 1917.600 785.700C1920 820 1925 860 1935.900 916.900C1942 950 1948 980 1951.200 1000.700L1972.300 1000.700C1972 950 1968 900 1970.500 862C1973 820 1979 780 1977.800 771C1978 745 1977 720 1976 700Z" fill="url(#tex)"/>
    <path d="M1917.600 785.700C1915 760 1915 735 1917 712L1976 700C1977 720 1978 745 1977.800 771C1979 780 1973 820 1970.500 862C1968 900 1972 950 1972.300 1000.700L1951.200 1000.700C1948 980 1942 950 1935.900 916.900C1925 860 1920 820 1917.600 785.700Z" fill="#10285c"/>
    <!-- ankles -->
    <path d="M1838 1000H1859L1858 1012L1846 1030L1834 1030Z" fill="#efa873"/>
    <path d="M1951.500 1000H1972L1972.500 1012L1962 1030L1950 1030Z" fill="#efa873"/>
    <!-- shoes -->
    <path d="M1813.800 1055.400C1813 1050 1815 1046 1820 1043.500C1830 1039 1840 1032 1850.200 1011.600C1856 1011 1860 1014 1861.200 1019C1863 1030 1862.500 1044 1861.600 1055.400L1857.500 1055.400C1857 1047 1856 1040 1853.500 1038C1846 1046 1838 1052 1833 1055.400Z" fill="#10285c"/>
    <path d="M1929.300 1055.400C1928.500 1050 1930.500 1046 1935.500 1043.500C1945.500 1039 1957 1032 1966.700 1011.600C1972.500 1011 1976.500 1014 1977.700 1019C1979.500 1030 1979 1044 1978.100 1057L1974 1057C1973.500 1047 1972.500 1040 1970 1038C1962.500 1046 1954.500 1052 1949.500 1055.400Z" fill="#10285c"/>
    <!-- far arm (hand on hip) -->
    <path d="M1973 574.200L1985 545L2004.400 551.800C2010 560 2014 568 2017.800 576.500C2021 584 2023.500 591 2024.600 598.900C2025 605 2023 610 2020.100 614.600C2014 627 2007 639 1999.900 650.500C1993 661 1985 672 1977.400 681.900L1960 668L1964 659.500C1970 648 1976 636 1981.900 623.600C1985 617 1988.500 610 1990.900 602.300C1986 592 1980 583 1973 574.200Z" fill="#1f8df5"/>
    <!-- torso + raised arm -->
    <path d="M1796.700 381.700L1818 379.800C1819.500 398 1821.500 416 1824.800 432.100C1828 446 1833 459 1839.700 469.500C1846 479 1854 487 1862.100 492C1872 497 1884 500.500 1895.800 503.200L1905 503.500C1925 515 1945 540 1956.100 574.200C1954.500 585 1954 595 1954.600 605.600C1955 615 1956 624 1957.200 632.600C1959 642 1961 651 1964 659.500C1967 668 1971 676 1975.200 683L1979.700 693.100C1979 697 1976.500 699.500 1973 701C1955 708 1935 712 1914.600 712.200C1894 712 1875 709 1857.400 704.400C1854 703 1852 701 1851.300 698.800C1853 691 1855.500 684 1858.500 677.400C1862 669 1865 660 1867.500 650.500C1870.500 639 1872.500 627 1873.100 614.600C1873.500 605 1873 596 1870.900 587.700C1866 583 1860 577 1857.400 569.700C1855 564 1854.500 559 1855.200 554C1853 548 1850.500 543 1847.300 538.300C1841 529 1834 521 1828.500 513.700C1821 503 1813.500 492 1808 478C1802.500 464 1799.500 449 1798.600 432.100C1797.500 415 1796.800 398 1796.700 381.700Z" fill="#1f8df5"/>
    <!-- raised hand -->
    <path d="M1797 382.500C1795.500 372 1797 362 1801 354C1804 347 1806 340 1807.500 334C1808.300 331.500 1811.500 331.500 1812.300 334C1813.500 342 1813 350 1814 356C1816 352 1818 349 1820 350C1822.500 352 1823.500 357 1823.300 363C1823 370 1821 376 1818.500 380.800C1811 383.500 1803 383.800 1797 382.500Z" fill="#efa873"/>
    <!-- face -->
    <path d="M 1889.6 417.2 C 1882.1 420.9 1879.3 430.3 1874.7 435.9 C 1871.9 439.6 1868.7 442.4 1869.3 444.9 C 1869.6 447.1 1872.4 447.9 1873.2 449.3 C 1872.1 451.8 1873.2 453.8 1873.9 455.7 C 1872.8 459.3 1873.2 463.9 1875 467.7 C 1877.5 475.1 1884 481.7 1889.6 485.4 C 1891.1 490.1 1891.9 495.7 1891.5 500.4 L 1900.8 504.1 L 1912.1 469.5 L 1900.8 417.2 Z" fill="#efa873"/>
    <!-- hair -->
    <path d="M1880.500 409C1884 399 1898 393.200 1914.500 392.900C1928 392.500 1939 397 1944.400 400.400C1958 410 1968 430 1974.300 443.400C1990 460 2003 485 2004.200 488.200C2012 500 2015 515 2013.600 521.900C2013 535 2008 548 2004.200 551.800C1996 562 1985 568 1974.300 570.500C1963 572.500 1952 571.500 1944.400 568.600C1930 563 1918 552 1910.700 544.300C1902 533 1897 518 1895.800 506.900C1894 498 1896 487 1899.500 477C1897 468 1892 458 1890.200 450.800C1888 442 1890 434 1892.500 426.500C1890 421 1884 419.500 1880.800 416C1879.500 413.500 1879.600 411 1880.500 409Z" fill="#10295b"/>
  </g>
</svg>
</div>
</body>
</html>
